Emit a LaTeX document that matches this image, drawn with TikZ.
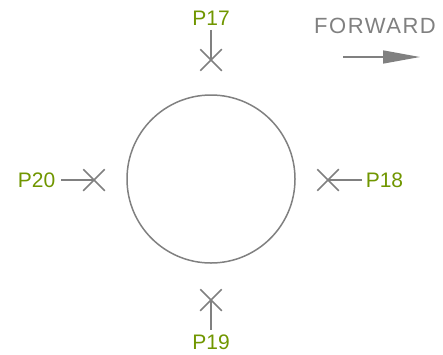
\documentclass[tikz,border=0pt]{standalone}
\usepackage{fontspec}
\setmainfont{Liberation Sans}
\usetikzlibrary{shapes.misc,arrows.meta}
\definecolor{linegray}{RGB}{128,128,128}
\definecolor{labelgreen}{RGB}{112,150,0}

\begin{document}
\begin{tikzpicture}[x=1pt,y=-1pt,line width=1.5pt,
  pin/.style={draw=linegray,cross out,minimum size=20pt,inner sep=0pt,line width=1.5pt},
  plabel/.style={text=labelgreen,font=\fontsize{21}{25}\selectfont,inner sep=0pt}]

\useasboundingbox (0,0) rectangle (443,354);

\draw [linegray] (211,179) circle (84);

\node [pin] (x17) at (211,60) {};
\node [pin] (x18) at (328,180) {};
\node [pin] (x19) at (211,300) {};
\node [pin] (x20) at (94,180) {};

\node [plabel] (p17) at (211,18) {P17};
\node [plabel,anchor=west] (p18) at (365,180) {P18};
\node [plabel] (p19) at (211,342) {P19};
\node [plabel,anchor=east] (p20) at (56,180) {P20};

\draw [linegray] (p17.south) ++(0,4) coordinate (a17) -- (x17.center);
\draw [linegray] (p18.west) ++(-3,0) coordinate (a18) -- (x18.center);
\draw [linegray] (p19.north) ++(0,-4) coordinate (a19) -- (x19.center);
\draw [linegray] (p20.east) ++(5,0) coordinate (a20) -- (x20.center);

\node [text=linegray,font=\fontsize{22}{26}\selectfont\addfontfeature{LetterSpace=7},inner sep=0pt] (fwd) at (375,26) {FORWARD};
\coordinate (fwdA) at (343,57);
\coordinate (fwdB) at (420,57);
\draw [linegray,-{Triangle[length=37pt,width=13pt]}] (fwdA) -- (fwdB);

\end{tikzpicture}
\end{document}
